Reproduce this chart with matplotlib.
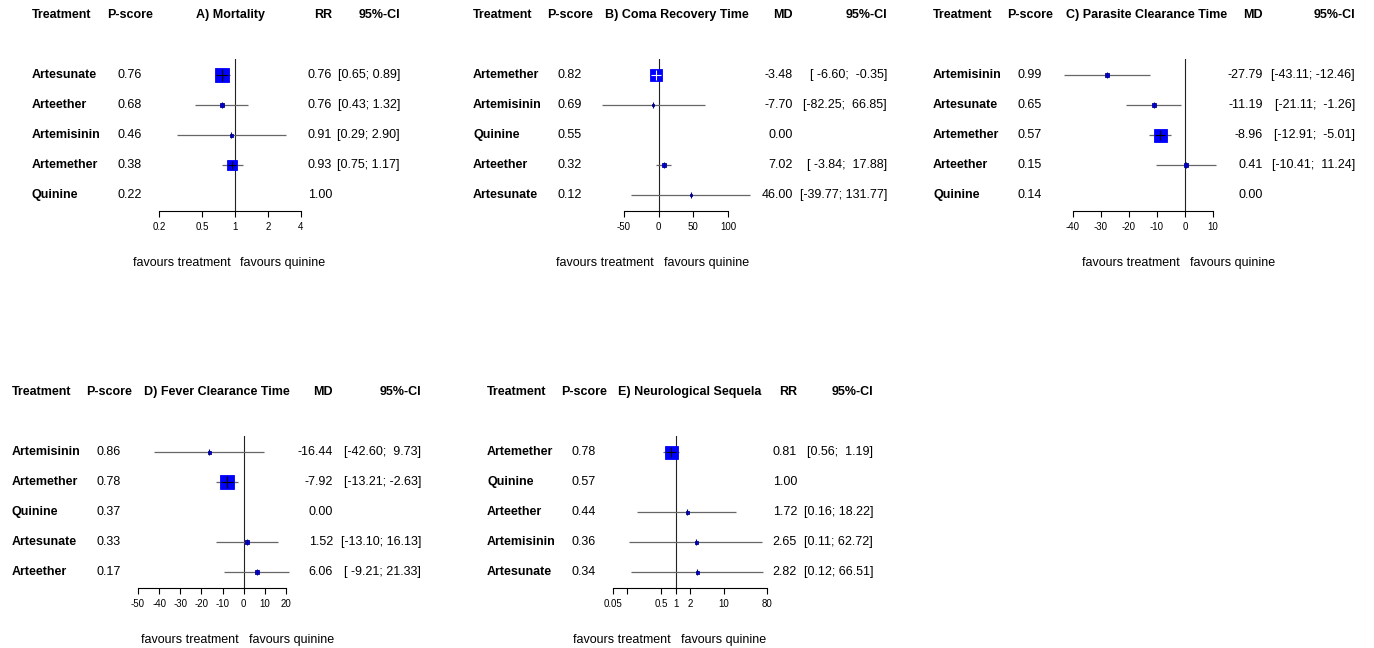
import matplotlib
matplotlib.use("Agg")
import matplotlib.pyplot as plt
from matplotlib.transforms import blended_transform_factory

plt.rcParams["font.family"] = ["Liberation Sans", "DejaVu Sans"]

W, H = 1374, 648

# ---- data -----------------------------------------------------------------
A_treat = ["Artesunate", "Arteether", "Artemisinin", "Artemether", "Quinine"]
A_pscore = [0.76, 0.68, 0.46, 0.38, 0.22]
A_est = [0.76, 0.76, 0.91, 0.93, 1.00]
A_lo = [0.65, 0.43, 0.29, 0.75, None]
A_hi = [0.89, 1.32, 2.90, 1.17, None]
A_weight = [14, 5, 3, 10, 0]
A_ticks = [0.2, 0.5, 1, 2, 4]

B_treat = ["Artemether", "Artemisinin", "Quinine", "Arteether", "Artesunate"]
B_pscore = [0.82, 0.69, 0.55, 0.32, 0.12]
B_est = [-3.48, -7.70, 0.00, 7.02, 46.00]
B_lo = [-6.60, -82.25, None, -3.84, -39.77]
B_hi = [-0.35, 66.85, None, 17.88, 131.77]
B_weight = [12, 2, 0, 5, 2]
B_ticks = [-50, 0, 50, 100]

C_treat = ["Artemisinin", "Artesunate", "Artemether", "Arteether", "Quinine"]
C_pscore = [0.99, 0.65, 0.57, 0.15, 0.14]
C_est = [-27.79, -11.19, -8.96, 0.41, 0.00]
C_lo = [-43.11, -21.11, -12.91, -10.41, None]
C_hi = [-12.46, -1.26, -5.01, 11.24, None]
C_weight = [4, 5, 13, 5, 0]
C_ticks = [-40, -30, -20, -10, 0, 10]

D_treat = ["Artemisinin", "Artemether", "Quinine", "Artesunate", "Arteether"]
D_pscore = [0.86, 0.78, 0.37, 0.33, 0.17]
D_est = [-16.44, -7.92, 0.00, 1.52, 6.06]
D_lo = [-42.60, -13.21, None, -13.10, -9.21]
D_hi = [9.73, -2.63, None, 16.13, 21.33]
D_weight = [3, 14, 0, 5, 5]
D_ticks = [-50, -40, -30, -20, -10, 0, 10, 20]

E_treat = ["Artemether", "Quinine", "Arteether", "Artemisinin", "Artesunate"]
E_pscore = [0.78, 0.57, 0.44, 0.36, 0.34]
E_est = [0.81, 1.00, 1.72, 2.65, 2.82]
E_lo = [0.56, None, 0.16, 0.11, 0.12]
E_hi = [1.19, None, 18.22, 62.72, 66.51]
E_weight = [13, 0, 3, 3, 3]
E_ticks = [0.05, 0.1, 0.5, 1, 2, 10, 80]
E_ticklabels = ["0.05", "", "0.5", "1", "2", "10", "80"]


def ci_strings(lo, hi):
    los = ["%.2f" % v for v in lo if v is not None]
    his = ["%.2f" % v for v in hi if v is not None]
    wl = max(len(s) for s in los)
    wh = max(len(s) for s in his)
    out = []
    for l, h in zip(lo, hi):
        if l is None:
            out.append("")
        else:
            out.append("[%s; %s]" % (("%.2f" % l).rjust(wl), ("%.2f" % h).rjust(wh)))
    return out


def forest(fig, title, measure, treat, pscore, est, lo, hi, weight, ticks,
           ticklabels, log, ref, layout, dy, inside="black"):
    x0, x1, tx, px, ttl, ex, cx = layout
    row0, step = 75 + dy, 30
    y_axis, y_top = 211 + dy, 59 + dy
    ax = fig.add_axes([x0 / W, 1 - y_axis / H, (x1 - x0) / W, (y_axis - y_top) / H])
    if log:
        ax.set_xscale("log")
    ax.set_xlim(ticks[0], ticks[-1])
    ax.set_ylim((y_axis - row0) / step, (y_top - row0) / step)
    for s in ["top", "left", "right"]:
        ax.spines[s].set_visible(False)
    ax.spines["bottom"].set_linewidth(0.8)
    ax.set_yticks([])
    ax.set_xticks(ticks)
    ax.set_xticklabels(ticklabels if ticklabels else [("%g" % t) for t in ticks])
    ax.xaxis.set_minor_locator(matplotlib.ticker.NullLocator())
    ax.tick_params(axis="x", direction="out", length=4, width=0.8, pad=4,
                   labelsize=7)
    ax.axvline(ref, color="#222222", lw=0.8, zorder=1)

    for i in range(len(treat)):
        if lo[i] is None:
            continue
        ax.plot([lo[i], hi[i]], [i, i], color="#666666", lw=0.9, zorder=2,
                clip_on=False, solid_capstyle="butt")
        s = weight[i]
        ax.plot(est[i], i, marker="s", ms=s * 0.72, mfc="#0000FF",
                mec="#0000FF" if s >= 9 else "#00008B", mew=0.6, zorder=3,
                clip_on=False)
        if s >= 9:
            ax.plot(est[i], i, marker="+", ms=s * 0.6, mec=inside, mew=0.8,
                    zorder=4, clip_on=False)
        else:
            ax.plot(est[i], i, marker="|", ms=4, mec="#00008B", mew=0.8,
                    zorder=4, clip_on=False)

    tr = blended_transform_factory(fig.transFigure, ax.transData)
    hy = (15 + dy - row0) / step
    bold = dict(fontsize=9, fontweight="bold", transform=tr, va="center",
                clip_on=False)
    ax.text(tx / W, hy, "Treatment", ha="left", **bold)
    ax.text(px / W, hy, "P-score", ha="center", **bold)
    ax.text(ttl / W, hy, title, ha="center", **bold)
    ax.text(ex / W, hy, measure, ha="right", **bold)
    ax.text(cx / W, hy, "95%-CI", ha="right", **bold)

    cis = ci_strings(lo, hi)
    for i in range(len(treat)):
        ax.text(tx / W, i, treat[i], ha="left", **bold)
        reg = dict(fontsize=9, transform=tr, va="center", clip_on=False)
        ax.text(px / W, i, "%.2f" % pscore[i], ha="center", **reg)
        ax.text(ex / W, i, "%.2f" % est[i], ha="right", **reg)
        ax.text(cx / W, i, cis[i], ha="right", **reg)

    fy = (263 + dy - row0) / step
    rx = ax.transData.transform((ref, 0))[0] / fig.dpi / fig.get_figwidth()
    ax.text(rx - 5 / W, fy, "favours treatment", ha="right", fontsize=9,
            transform=tr, va="center", clip_on=False)
    ax.text(rx + 5 / W, fy, "favours quinine", ha="left", fontsize=9,
            transform=tr, va="center", clip_on=False)


fig = plt.figure(figsize=(W / 100, H / 100), dpi=100, facecolor="white")

forest(fig, "A) Mortality", "RR", A_treat, A_pscore, A_est, A_lo, A_hi,
       A_weight, A_ticks, None, True, 1, (159, 301, 32, 130, 230, 332, 400), 0)
forest(fig, "B) Coma Recovery Time", "MD", B_treat, B_pscore, B_est, B_lo, B_hi,
       B_weight, B_ticks, None, False, 0, (624, 728, 473, 570, 677, 793, 887), 0,
       inside="white")
forest(fig, "C) Parasite Clearance Time", "MD", C_treat, C_pscore, C_est, C_lo,
       C_hi, C_weight, C_ticks, None, False, 0,
       (1073, 1213, 933, 1030, 1147, 1263, 1355), 0)
forest(fig, "D) Fever Clearance Time", "MD", D_treat, D_pscore, D_est, D_lo,
       D_hi, D_weight, D_ticks, None, False, 0,
       (138, 286, 12, 109, 217, 333, 421), 377)
forest(fig, "E) Neurological Sequela", "RR", E_treat, E_pscore, E_est, E_lo,
       E_hi, E_weight, E_ticks, E_ticklabels, True, 1,
       (613, 767, 487, 584, 690, 797, 873), 377)

fig.savefig("out.png", dpi=100, facecolor="white")
